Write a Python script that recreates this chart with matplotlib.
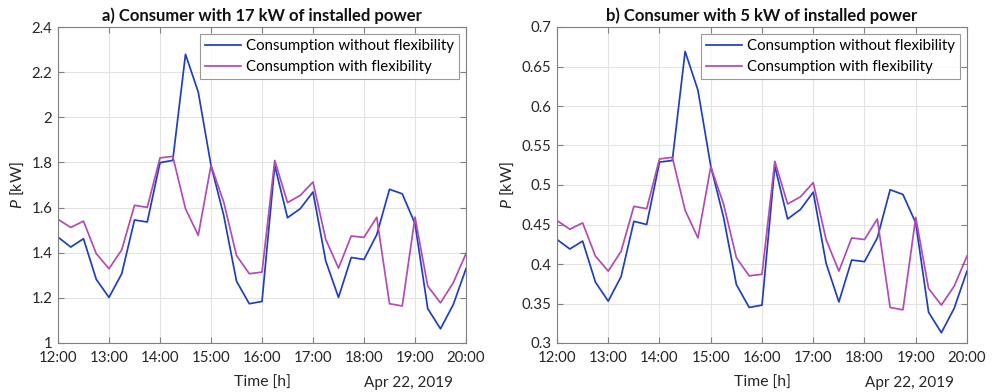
import matplotlib
matplotlib.use("Agg")
import matplotlib.pyplot as plt
import matplotlib.dates as mdates
import pandas as pd

plt.rcParams['font.family'] = ['Lato', 'DejaVu Sans']
plt.rcParams['mathtext.fontset'] = 'custom'
plt.rcParams['mathtext.it'] = 'Lato:italic'
plt.rcParams['mathtext.rm'] = 'Lato'

times = pd.date_range("2019-04-22 12:00", "2019-04-22 20:00", freq="15min")

a_without = [1.469, 1.425, 1.462, 1.282, 1.202, 1.307, 1.545, 1.536, 1.799, 1.809,
             2.279, 2.112, 1.787, 1.565, 1.274, 1.174, 1.184, 1.787, 1.555, 1.595,
             1.669, 1.363, 1.202, 1.379, 1.370, 1.480, 1.681, 1.661, 1.529, 1.152,
             1.063, 1.170, 1.329]
a_with = [1.548, 1.512, 1.540, 1.396, 1.329, 1.413, 1.610, 1.601, 1.820, 1.827,
          1.595, 1.477, 1.787, 1.624, 1.388, 1.307, 1.314, 1.809, 1.622, 1.654,
          1.713, 1.459, 1.332, 1.474, 1.468, 1.557, 1.174, 1.164, 1.558, 1.252,
          1.178, 1.267, 1.396]
b_without = [0.431, 0.419, 0.429, 0.377, 0.353, 0.384, 0.454, 0.450, 0.529, 0.531,
             0.669, 0.620, 0.524, 0.459, 0.374, 0.345, 0.348, 0.524, 0.457, 0.469,
             0.491, 0.401, 0.352, 0.405, 0.403, 0.433, 0.494, 0.488, 0.452, 0.339,
             0.313, 0.344, 0.391]
b_with = [0.455, 0.444, 0.452, 0.410, 0.391, 0.416, 0.473, 0.470, 0.533, 0.535,
          0.468, 0.433, 0.523, 0.476, 0.408, 0.385, 0.387, 0.530, 0.476, 0.485,
          0.503, 0.431, 0.391, 0.433, 0.431, 0.457, 0.345, 0.342, 0.459, 0.369,
          0.348, 0.372, 0.410]

titles = ["a) Consumer with 17 kW of installed power",
          "b) Consumer with 5 kW of installed power"]
yticks_a = [1, 1.2, 1.4, 1.6, 1.8, 2, 2.2, 2.4]
ytick_labels_a = ["1", "1.2", "1.4", "1.6", "1.8", "2", "2.2", "2.4"]
yticks_b = [0.3, 0.35, 0.4, 0.45, 0.5, 0.55, 0.6, 0.65, 0.7]
ytick_labels_b = ["0.3", "0.35", "0.4", "0.45", "0.5", "0.55", "0.6", "0.65", "0.7"]
labels = ["Consumption without flexibility", "Consumption with flexibility"]
date_label = "Apr 22, 2019"

BLUE = "#1f3fbf"
MAG = "#b04cb4"
SPINE = "#808080"
TXT = "#262626"

fig = plt.figure(figsize=(9.95, 3.92), dpi=100)
W, H = 995, 392
axes_px = [(58, 27, 408, 316), (557, 27, 410, 316)]
datasets = [(a_without, a_with, yticks_a, ytick_labels_a),
            (b_without, b_with, yticks_b, ytick_labels_b)]

for i, ((x0, y0, w, h), (wo, wi, yt, ytl)) in enumerate(zip(axes_px, datasets)):
    ax = fig.add_axes([x0 / W, 1 - (y0 + h) / H, w / W, h / H])
    ax.plot(times, wo, color=BLUE, lw=1.25, label=labels[0])
    ax.plot(times, wi, color=MAG, lw=1.25, label=labels[1])
    ax.set_xlim(times[0], times[-1])
    ax.set_ylim(yt[0], yt[-1])
    ax.set_yticks(yt)
    ax.set_yticklabels(ytl)
    ax.xaxis.set_major_locator(mdates.HourLocator())
    ax.xaxis.set_major_formatter(mdates.DateFormatter("%H:%M"))
    ax.grid(True, color="#e3e3e3", lw=0.8)
    ax.set_axisbelow(True)
    for s in ax.spines.values():
        s.set_color(SPINE)
        s.set_linewidth(0.8)
    ax.tick_params(direction="in", top=True, right=True, length=4,
                   color=SPINE, labelsize=10.8, labelcolor=TXT)
    ax.tick_params(axis="x", pad=6)
    ax.tick_params(axis="y", pad=4)
    ax.set_title(titles[i], fontsize=12, fontweight="bold", pad=4, color="#111111")
    ax.set_ylabel("$P$ [kW]", fontsize=11.5, color=TXT, labelpad=4)
    ax.set_xlabel("Time [h]", fontsize=11.3, color=TXT)
    y_lab = -(383 - (y0 + h)) / h
    ax.xaxis.set_label_coords(0.5, y_lab)
    ax.xaxis.label.set_verticalalignment("center")
    ax.text(0.86, y_lab, date_label, transform=ax.transAxes, ha="center",
            va="center", fontsize=11, color=TXT)
    leg = ax.legend(loc="upper right", fontsize=10.8, frameon=True, fancybox=False,
                    borderpad=0.35, handlelength=2.4, handletextpad=0.3,
                    labelspacing=0.45, borderaxespad=0.45)
    leg.get_frame().set_edgecolor(SPINE)
    leg.get_frame().set_linewidth(0.8)

fig.savefig("out.png", dpi=100)
